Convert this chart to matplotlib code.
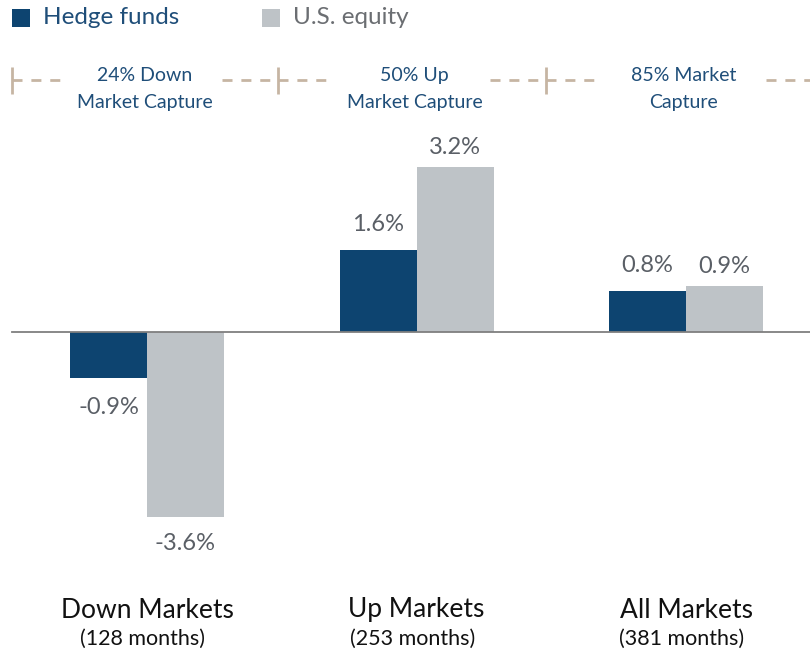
import matplotlib
matplotlib.use("Agg")
import matplotlib.pyplot as plt
import numpy as np

categories = ["Down Markets", "Up Markets", "All Markets"]
months = ["(128 months)", "(253 months)", "(381 months)"]
series_names = ["Hedge funds", "U.S. equity"]
hedge = [-0.9, 1.6, 0.8]
equity = [-3.6, 3.2, 0.9]
capture_labels = ["24% Down\nMarket Capture", "50% Up\nMarket Capture", "85% Market\nCapture"]

C_HEDGE = "#0d4470"
C_EQ = "#bec3c7"
C_LBL = "#5a5f66"
C_CAP = "#1f4e79"
C_DASH = "#c6b5a3"

plt.rcParams['font.family'] = ['Lato', 'DejaVu Sans']

W, H = 810, 653
fig = plt.figure(figsize=(W / 100, H / 100), dpi=100)
ax = fig.add_axes([0, 0, 1, 1])

# pixel mapping: group centre px = 147 + 269.5*i ; zero at y=332, 51.5 px per %
x0, dx = 147.0, 269.5
y0, dy = 332.0, 51.5
ax.set_xlim((0 - x0) / dx, (W - x0) / dx)
ax.set_ylim(-(H - y0) / dy, y0 / dy)
ax.axis("off")

x = np.arange(len(categories))
bw = 77 / dx
ax.bar(x - bw / 2, hedge, bw, color=C_HEDGE, linewidth=0)
ax.bar(x + bw / 2, equity, bw, color=C_EQ, linewidth=0)
ax.axhline(0, xmin=12 / W, xmax=1, color="#7f7f7f", lw=1.3)

for xi, v in zip(x - bw / 2, hedge):
    ax.annotate(f"{v:.1f}%", (xi, v), xytext=(0, 18 if v > 0 else -21), textcoords="offset points",
                ha="center", va="center", fontsize=17, color=C_LBL)
for xi, v in zip(x + bw / 2, equity):
    ax.annotate(f"{v:.1f}%", (xi, v), xytext=(0, 14 if v > 0 else -19), textcoords="offset points",
                ha="center", va="center", fontsize=17, color=C_LBL)

def py(p):
    return (y0 - p) / dy

def px(p):
    return (p - x0) / dx

# category labels
for i, (c, m) in enumerate(zip(categories, months)):
    ax.text(i, py(610), c, ha="center", va="center", fontsize=19, color="#111111")
    ax.text(i - 4 / dx, py(639), m, ha="center", va="center", fontsize=15.5, color="#111111")

# legend
fig.patches.append(plt.Rectangle((12 / W, 1 - 27 / H), 18 / W, 18 / H, transform=fig.transFigure,
                                 color=C_HEDGE, lw=0))
fig.text(43 / W, 1 - 18 / H, series_names[0], ha="left", va="center", fontsize=17.5, color=C_CAP)
fig.patches.append(plt.Rectangle((262 / W, 1 - 27 / H), 18 / W, 18 / H, transform=fig.transFigure,
                                 color=C_EQ, lw=0))
fig.text(293 / W, 1 - 18 / H, series_names[1], ha="left", va="center", fontsize=17.5, color="#6b6e72")

# capture brackets
ybr = py(80)
ticks_px = [12, 278, 546]
dash = (0, (3.6, 3.2))
for i, cap in enumerate(capture_labels):
    left = ticks_px[i]
    right = ticks_px[i + 1] if i + 1 < len(ticks_px) else W + 12
    ax.plot([px(left), px(left + 50)], [ybr, ybr], color=C_DASH, lw=2.0, ls=dash,
            dash_capstyle="butt")
    ax.plot([px(right - 56), px(right)], [ybr, ybr], color=C_DASH, lw=2.0, ls=dash,
            dash_capstyle="butt")
    ax.plot([px(left), px(left)], [py(67), py(94)], color=C_DASH, lw=2.0, solid_capstyle="butt")
    ax.text(i - 2 / dx, py(89), cap, ha="center", va="center", fontsize=14, color=C_CAP,
            linespacing=1.65)

fig.savefig("out.png", dpi=100)
